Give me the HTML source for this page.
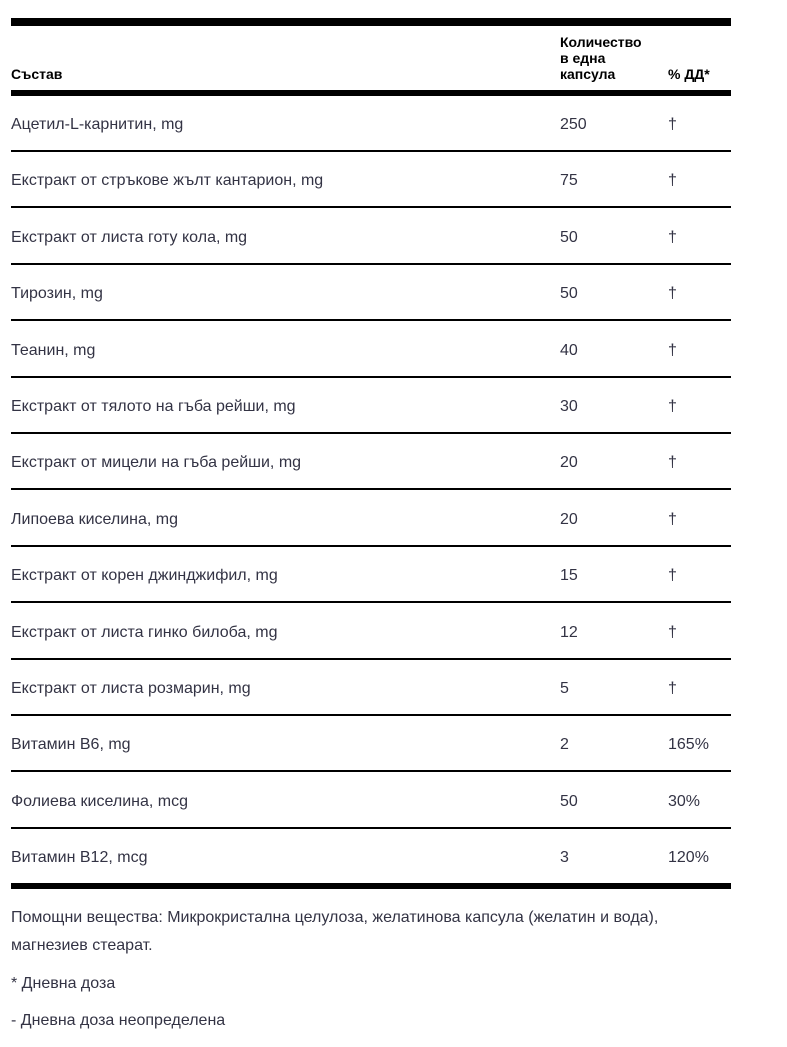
<!DOCTYPE html>
<html><head><meta charset="utf-8"><style>
body{margin:0;background:#fff;width:787px;height:1047px;position:relative;font-family:"Liberation Sans",sans-serif;color:#333344;overflow:hidden}
.bar{position:absolute;left:11px;width:720px;background:#000}
.t{position:absolute;font-size:16px;line-height:18px;white-space:nowrap}
.h{position:absolute;font-size:14px;font-weight:bold;color:#000;line-height:16px;white-space:nowrap}
</style></head><body>
<div class="bar" style="top:18px;height:8px"></div>
<div class="h" style="left:11px;top:66px">Състав</div>
<div class="h" style="left:560px;top:34px">Количество<br>в една<br>капсула</div>
<div class="h" style="left:668px;top:66px">% ДД*</div>
<div class="bar" style="top:90px;height:6px"></div>
<div id="rows"></div>
<div class="bar" style="top:883px;height:6px"></div>
<div class="t" style="left:11px;top:909px">Помощни вещества: Микрокристална целулоза, желатинова капсула (желатин и вода),</div>
<div class="t" style="left:11px;top:937px">магнезиев стеарат.</div>
<div class="t" style="left:11px;top:975px">* Дневна доза</div>
<div class="t" style="left:11px;top:1012px">- Дневна доза неопределена</div>
<script>
var d=[["Ацетил-L-карнитин, mg","250","†"],["Екстракт от стръкове жълт кантарион, mg","75","†"],["Екстракт от листа готу кола, mg","50","†"],["Тирозин, mg","50","†"],["Теанин, mg","40","†"],["Екстракт от тялото на гъба рейши, mg","30","†"],["Екстракт от мицели на гъба рейши, mg","20","†"],["Липоева киселина, mg","20","†"],["Екстракт от корен джинджифил, mg","15","†"],["Екстракт от листа гинко билоба, mg","12","†"],["Екстракт от листа розмарин, mg","5","†"],["Витамин B6, mg","2","165%"],["Фолиева киселина, mcg","50","30%"],["Витамин B12, mcg","3","120%"]];
var h="";
for(var i=0;i<d.length;i++){var c=125+i*56.4;var y=c-9;
h+='<div class="t" style="left:11px;top:'+y+'px">'+d[i][0]+'</div><div class="t" style="left:560px;top:'+y+'px">'+d[i][1]+'</div><div class="t" style="left:668px;top:'+y+'px">'+d[i][2]+'</div>';
if(i<d.length-1)h+='<div class="bar" style="top:'+(150+i*56.4)+'px;height:2px"></div>';}
document.getElementById("rows").innerHTML=h;
</script>
</body></html>
